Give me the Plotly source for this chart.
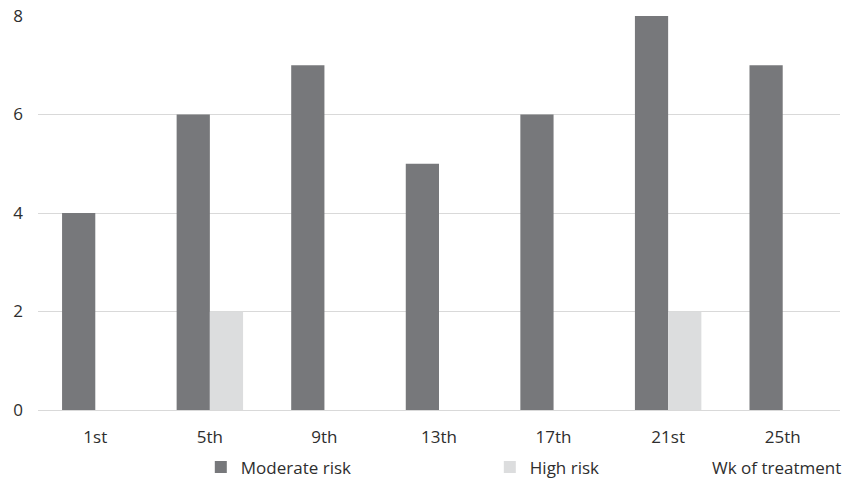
import plotly.graph_objects as go

weeks = ["1st", "5th", "9th", "13th", "17th", "21st", "25th"]
moderate_risk = [4, 6, 7, 5, 6, 8, 7]
high_risk = [0, 2, 0, 0, 0, 2, 0]
y_ticks = [0, 2, 4, 6, 8]

FONT = "Open Sans, Lato, sans-serif"
TXT = "#2e2e2e"
FS = 17

fig = go.Figure()
fig.add_trace(go.Bar(name="Moderate risk", x=weeks, y=moderate_risk,
                     marker=dict(color="#77787b", line=dict(width=0))))
fig.add_trace(go.Bar(name="High risk", x=weeks, y=high_risk,
                     marker=dict(color="#dcddde", line=dict(width=0))))

fig.update_layout(
    width=845, height=479,
    margin=dict(l=38, r=5, t=16, b=69, autoexpand=False),
    paper_bgcolor="white", plot_bgcolor="white",
    barmode="group", bargap=0.42, bargroupgap=0,
    font=dict(family=FONT, size=FS, color=TXT),
    showlegend=True,
    legend=dict(orientation="h", x=0.203, y=-0.10, xanchor="left", yanchor="top",
                entrywidth=244, entrywidthmode="pixels", itemwidth=30,
                font=dict(size=FS, color=TXT)),
    xaxis=dict(showline=False, ticks="", tickfont=dict(size=FS), ticklabelstandoff=15,
               automargin=False),
    yaxis=dict(range=[0, 8], tickvals=y_ticks, showgrid=True, gridcolor="#d9d9d9",
               gridwidth=1, zeroline=True, zerolinecolor="#d9d9d9", zerolinewidth=1,
               ticks="", ticklabelstandoff=14, tickfont=dict(size=FS), automargin=False,
               ticklabeloverflow="allow"),
    annotations=[dict(text="Wk of treatment", xref="paper", yref="paper",
                      x=1.0037, y=-0.145, xanchor="right", yanchor="middle",
                      showarrow=False, font=dict(size=FS, color=TXT))],
)

fig.write_html("out.html", config={"displayModeBar": False},
               post_script="document.body.style.margin='0px';document.body.style.overflow='hidden';")
